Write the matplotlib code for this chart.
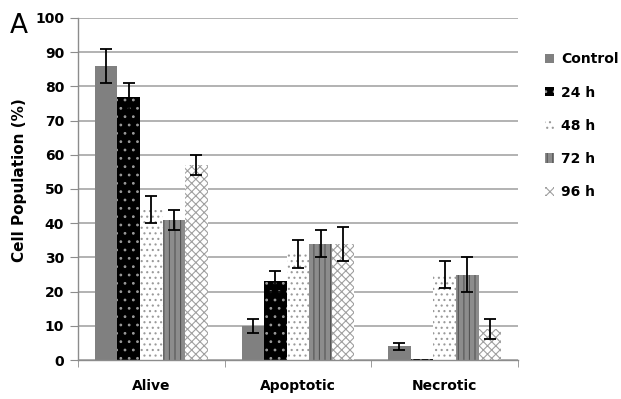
import matplotlib
matplotlib.use("Agg")
import matplotlib.pyplot as plt
import numpy as np
from matplotlib.patches import Patch

categories = ["Alive", "Apoptotic", "Necrotic"]
series = ["Control", "24 h", "48 h", "72 h", "96 h"]
values = {
    "Control": [86, 10, 4],
    "24 h": [77, 23, 0.3],
    "48 h": [44, 31, 25],
    "72 h": [41, 34, 25],
    "96 h": [57, 34, 9],
}
errors = {
    "Control": [5, 2, 1],
    "24 h": [4, 3, 0],
    "48 h": [4, 4, 4],
    "72 h": [3, 4, 5],
    "96 h": [3, 5, 3],
}
yticks = list(range(0, 101, 10))

styles = {
    "Control": dict(facecolor="#808080", edgecolor="#767676", hatch=None),
    "24 h": dict(facecolor="#000000", edgecolor="#9a9a9a", hatch=".."),
    "48 h": dict(facecolor="#ffffff", edgecolor="#9a9a9a", hatch="..."),
    "72 h": dict(facecolor="#8c8c8c", edgecolor="#555555", hatch="|||"),
    "96 h": dict(facecolor="#ffffff", edgecolor="#a0a0a0", hatch="xxxx"),
}

plt.rcParams["hatch.linewidth"] = 0.8
fig = plt.figure(figsize=(6.21, 3.99), dpi=100)
ax = fig.add_axes([0.1256, 0.0977, 0.7085, 0.8573])

x = np.arange(len(categories))
bw = 0.154
n = len(series)
for i, s in enumerate(series):
    pos = x + (i - (n - 1) / 2) * bw
    st = styles[s]
    ax.bar(pos, values[s], width=bw, facecolor=st["facecolor"], edgecolor=st["edgecolor"],
           hatch=st["hatch"], linewidth=0, zorder=2)
    err = np.array(errors[s])
    mask = err > 0
    ax.errorbar(pos[mask], np.array(values[s])[mask], yerr=err[mask], fmt="none",
                ecolor="black", elinewidth=1.3, capsize=4, capthick=1.3, zorder=3)

ax.set_xlim(-0.5, 2.5)
ax.set_ylim(0, 100)
ax.set_yticks(yticks)
ax.yaxis.grid(True, color="#a6a6a6", linewidth=1.2, zorder=0)
ax.set_axisbelow(True)
for sp in ["top", "right"]:
    ax.spines[sp].set_visible(False)
for sp in ["left", "bottom"]:
    ax.spines[sp].set_color("#8c8c8c")
    ax.spines[sp].set_linewidth(1.0)
ax.tick_params(axis="y", length=6, color="#8c8c8c", labelsize=10, pad=4)
ax.set_xticks(x)
ax.set_xticklabels(categories)
ax.tick_params(axis="x", length=0, labelsize=10, pad=14)
ax.set_xticks([-0.5, 0.5, 1.5, 2.5], minor=True)
ax.tick_params(axis="x", which="minor", length=5, color="#8c8c8c")
for lab in ax.get_xticklabels() + ax.get_yticklabels():
    lab.set_fontweight("bold")
ax.set_ylabel("Cell Population (%)", fontsize=11, fontweight="bold", labelpad=8)
ax.yaxis.set_label_coords(-0.115, 0.525)

fig.text(0.016, 0.935, "A", fontsize=19, ha="left", va="center")

handles = [Patch(facecolor=styles[s]["facecolor"], edgecolor=styles[s]["edgecolor"],
                 hatch=styles[s]["hatch"], linewidth=0) for s in series]
leg = fig.legend(handles, series, loc="upper left", bbox_to_anchor=(0.862, 0.893),
                 frameon=False, handlelength=0.65, handleheight=0.65, handletextpad=0.5,
                 labelspacing=1.38, borderpad=0.2, prop={"weight": "bold", "size": 10})

fig.savefig("out.png", dpi=100)
